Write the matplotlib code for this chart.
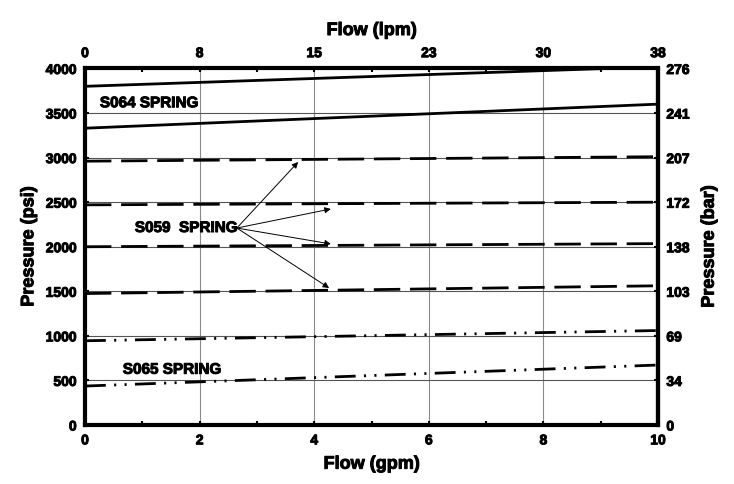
import matplotlib
matplotlib.use("Agg")
import matplotlib.pyplot as plt
import matplotlib.patheffects as pe
import numpy as np

plt.rcParams["font.family"] = ["Liberation Sans", "DejaVu Sans"]
plt.rcParams["font.weight"] = "bold"
plt.rcParams["lines.scale_dashes"] = False

# flow in gpm at both ends of each curve, pressure in psi
flow_gpm = [0, 10]
s064_hi = [3800, 4020]
s064_lo = [3330, 3600]
s059_a = [2960, 3010]
s059_b = [2470, 2500]
s059_c = [2000, 2035]
s059_d = [1475, 1562]
s065_hi = [945, 1060]
s065_lo = [437, 673]

gpm_ticks = [0, 2, 4, 6, 8, 10]
lpm_labels = ["0", "8", "15", "23", "30", "38"]
psi_ticks = [0, 500, 1000, 1500, 2000, 2500, 3000, 3500, 4000]
bar_labels = ["0", "34", "69", "103", "138", "172", "207", "241", "276"]

# arrow targets for the S059 label (gpm, psi)
arrow_x = [3.72, 4.29, 4.29, 4.26]
arrow_y = [2951, 2424, 2031, 1537]

heavy = [pe.withStroke(linewidth=0.7, foreground="black")]

fig = plt.figure(figsize=(7.34, 4.84), dpi=100)
ax = fig.add_axes([0.1158, 0.1219, 0.7807, 0.7366])

for v in gpm_ticks[1:-1]:
    ax.axvline(v, color="#8a8a8a", lw=0.8, zorder=1)
for v in psi_ticks[1:-1]:
    ax.axhline(v, color="#555555", lw=0.8, zorder=1)

lw = 2.0
ax.plot(flow_gpm, s064_hi, color="black", lw=lw, zorder=3)
ax.plot(flow_gpm, s064_lo, color="black", lw=lw, zorder=3)
for s in [s059_a, s059_b, s059_c, s059_d]:
    ax.plot(flow_gpm, s, color="black", lw=lw, dashes=(19, 7), zorder=3)
for s in [s065_hi, s065_lo]:
    ax.plot(flow_gpm, s, color="black", lw=lw, dashes=(15, 6, 1.5, 6, 1.5, 6), zorder=3)

txt = dict(fontsize=11, fontweight="bold", va="center", ha="left", path_effects=heavy)
ax.text(0.26, 3610, "S064 SPRING", **txt)
ax.text(0.87, 2210, "S059  SPRING", **txt)
ax.text(0.66, 620, "S065 SPRING", **txt)

for xe, ye in zip(arrow_x, arrow_y):
    ax.annotate("", xy=(xe, ye), xytext=(2.65, 2210),
                arrowprops=dict(arrowstyle="-|>", color="black", lw=0.7,
                                mutation_scale=9, shrinkA=0, shrinkB=0))

ax.set_xlim(0, 10)
ax.set_ylim(0, 4000)
ax.set_xticks(gpm_ticks)
ax.set_yticks(psi_ticks)
ax.set_xticks(np.arange(1, 10, 2), minor=True)
ax.tick_params(axis="both", direction="in", length=3, width=1.5, labelsize=10, pad=6)
ax.tick_params(axis="x", which="minor", direction="in", length=3, width=1.5)
ax.set_xlabel("Flow (gpm)", fontsize=13, fontweight="bold", labelpad=6, path_effects=heavy)
ax.set_ylabel("Pressure (psi)", fontsize=13, fontweight="bold", labelpad=6, path_effects=heavy)
for lab in ax.get_xticklabels() + ax.get_yticklabels():
    lab.set_fontweight("bold")
    lab.set_path_effects(heavy)

for side in ["left", "bottom", "top"]:
    ax.spines[side].set_linewidth(3)
ax.spines["right"].set_linewidth(3)
ax.spines["right"].set_linestyle((0, (1, 1)))

top = ax.twiny()
top.set_xlim(ax.get_xlim())
top.set_xticks(gpm_ticks)
top.set_xticklabels(lpm_labels, fontweight="bold", fontsize=10, path_effects=heavy)
top.set_xticks(np.arange(1, 10, 2), minor=True)
top.tick_params(axis="x", which="both", direction="in", length=3, width=1.5, pad=6)
top.set_xlabel("Flow (lpm)", fontsize=13, fontweight="bold", labelpad=8, path_effects=heavy)
for s in top.spines.values():
    s.set_visible(False)

right = ax.twinx()
right.set_ylim(ax.get_ylim())
right.set_yticks(psi_ticks)
right.set_yticklabels(bar_labels, fontweight="bold", fontsize=10, path_effects=heavy)
right.tick_params(axis="y", direction="in", length=3, width=1.5, pad=6)
right.set_ylabel("Pressure (bar)", fontsize=13, fontweight="bold", labelpad=8, path_effects=heavy)
for s in right.spines.values():
    s.set_visible(False)

fig.savefig("out.png", dpi=100)
